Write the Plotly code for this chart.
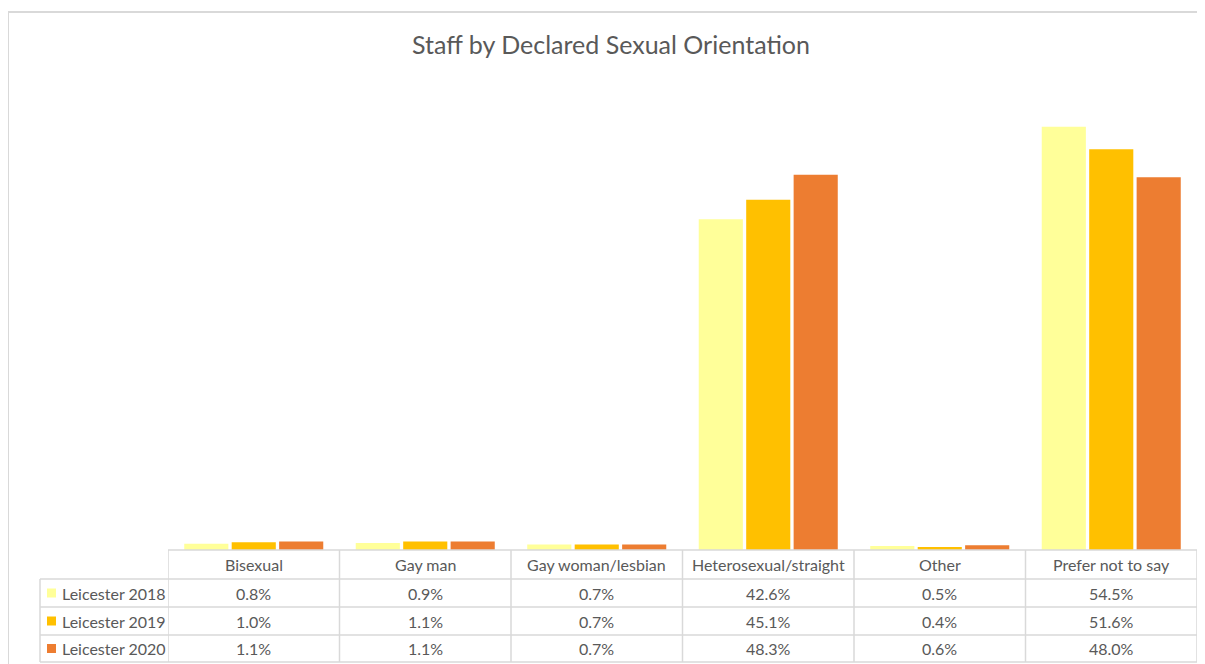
import plotly.graph_objects as go

categories = ["Bisexual", "Gay man", "Gay woman/lesbian", "Heterosexual/straight", "Other", "Prefer not to say"]
series_names = ["Leicester 2018", "Leicester 2019", "Leicester 2020"]
values_2018 = [0.8, 0.9, 0.7, 42.6, 0.5, 54.5]
values_2019 = [1.0, 1.1, 0.7, 45.1, 0.4, 51.6]
values_2020 = [1.1, 1.1, 0.7, 48.3, 0.6, 48.0]
series_values = [values_2018, values_2019, values_2020]
colors = ["#FFFF99", "#FFC000", "#ED7D31"]

# page offset (browser default body margin)
OFF = 8
W, H = 1205 - OFF, 664 - OFF
# target-pixel geometry
T_LEFT, T_RIGHT, T_TOP, T_BASE = 168, 1197, 84, 550
ML = T_LEFT - OFF
MR = (W + OFF) - T_RIGHT
MT = T_TOP - OFF
MB = (H + OFF) - T_BASE
plot_w = W - ML - MR
plot_h = H - MT - MB
FONT = "Lato, Liberation Sans, sans-serif"
TXT = "#595959"
GRID = "#D9D9D9"

def py(p):  # target pixel y -> paper y
    return (T_BASE - p) / plot_h

def px(p):  # target pixel x -> paper x
    return (p - T_LEFT) / plot_w

fig = go.Figure()
for name, vals, col in zip(series_names, series_values, colors):
    fig.add_trace(go.Bar(x=categories, y=vals, name=name, marker=dict(color=col, line=dict(width=0)),
                         hovertemplate="%{x}: %{y:.1f}%<extra>" + name + "</extra>"))

row_px = [550, 579, 607, 635, 662]
shapes = []
shapes.append(dict(type="line", xref="paper", yref="paper", x0=0, x1=1, y0=py(row_px[0]), y1=py(row_px[0]),
                   line=dict(color=GRID, width=1.5)))
for r in row_px[1:]:
    shapes.append(dict(type="line", xref="paper", yref="paper", x0=px(40), x1=1, y0=py(r), y1=py(r),
                       line=dict(color=GRID, width=1.5)))
shapes.append(dict(type="line", xref="paper", yref="paper", x0=px(40), x1=px(40), y0=py(row_px[1]), y1=py(row_px[-1]),
                   line=dict(color=GRID, width=1.5)))
for i in range(len(categories) + 1):
    shapes.append(dict(type="line", xref="x", yref="paper", x0=i - 0.5, x1=i - 0.5, y0=py(row_px[0]), y1=py(row_px[-1]),
                       line=dict(color=GRID, width=1.5)))
# chart border (top and left)
shapes.append(dict(type="line", xref="paper", yref="paper", x0=px(8), x1=px(1205 + 4), y0=py(12), y1=py(12),
                   line=dict(color=GRID, width=2)))
shapes.append(dict(type="line", xref="paper", yref="paper", x0=px(8), x1=px(8), y0=py(12), y1=py(664 + 4),
                   line=dict(color=GRID, width=2)))

annotations = []
FS = 16
hdr_y = py((row_px[0] + row_px[1]) / 2)
for c in categories:
    annotations.append(dict(x=c, xref="x", y=hdr_y, yref="paper", text=c, showarrow=False,
                            font=dict(family=FONT, size=FS, color=TXT), xanchor="center", yanchor="middle"))
for k, (name, vals, col) in enumerate(zip(series_names, series_values, colors)):
    yc = py((row_px[k + 1] + row_px[k + 2]) / 2)
    for c, v in zip(categories, vals):
        annotations.append(dict(x=c, xref="x", y=yc, yref="paper", text=f"{v:.1f}%", showarrow=False,
                                font=dict(family=FONT, size=FS, color=TXT), xanchor="center", yanchor="middle"))
    annotations.append(dict(x=px(60), xref="paper", y=yc, yref="paper", text=name, showarrow=False,
                            font=dict(family=FONT, size=FS, color=TXT), xanchor="left", yanchor="middle"))
    shapes.append(dict(type="rect", xref="paper", yref="paper", x0=px(47), x1=px(56), y0=yc - 4.5 / plot_h,
                       y1=yc + 4.5 / plot_h, line=dict(width=0), fillcolor=col))

fig.update_layout(
    width=W, height=H,
    margin=dict(l=ML, r=MR, t=MT, b=MB),
    paper_bgcolor="white", plot_bgcolor="white",
    title=dict(text="Staff by Declared Sexual Orientation", x=(611 - OFF) / W, xanchor="center",
               y=1 - (45 - OFF) / H, yanchor="middle",
               font=dict(family=FONT, size=25, color=TXT)),
    barmode="group", bargap=0.17, bargroupgap=0.07,
    showlegend=False,
    xaxis=dict(showticklabels=False, showline=False, ticks="", showgrid=False, zeroline=False, range=[-0.5, 5.5]),
    yaxis=dict(range=[0, 60], visible=False, showgrid=False, zeroline=False),
    shapes=shapes, annotations=annotations,
)
fig.write_html("out.html")
